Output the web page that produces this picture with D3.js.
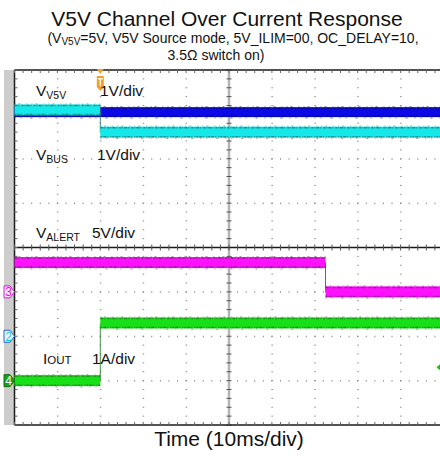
<!DOCTYPE html>
<html>
<head>
<meta charset="utf-8">
<script src="https://cdn.jsdelivr.net/npm/d3@7"></script>
<style>
  body { margin: 0; background: #fff; }
  svg { display: block; font-family: "Liberation Sans", Arial, sans-serif; }
</style>
</head>
<body>
<svg id="chart" width="440" height="460"></svg>
<script>
// Screen: 10 horizontal divisions of 10 ms, 8 vertical divisions
const timeDomainMs = [0, 100];
const divDomain = [-4, 4];

// Channel 1: V5V (1 V/div)
const v5vTimeMs = [0, 100];
const v5vVolts = [5.05, 5.05];
// Channel 2: VBUS (1 V/div)
const vbusTimeMs = [0, 20, 20, 100];
const vbusVolts = [5.1, 5.1, 4.6, 4.6];
// Channel 3: VALERT (5 V/div)
const alertTimeMs = [0, 72.5, 72.5, 100];
const alertVolts = [3.3, 3.3, 0, 0];
// Channel 4: IOUT (1 A/div)
const ioutTimeMs = [0, 20, 20, 100];
const ioutAmps = [0, 0, 1.3, 1.3];

// Units per division and ground position (in divisions from screen centre)
const chScale = { v5v: 1, vbus: 1, alert: 5, iout: 1 };
const chOffset = { v5v: -2, vbus: -2, alert: -1, iout: -3 };
const triggerTimeMs = 20;
const ioutTriggerLevel = 0.3;

const svg = d3.select("#chart");
const x = d3.scaleLinear().domain(timeDomainMs).range([14.5, 443.5]);
const y = d3.scaleLinear().domain(divDomain).range([425, 70]);
const xLeft = x(0), xRight = 440, yTop = y(4), yBottom = y(-4);

// Title
svg.append("text").attr("x", 227).attr("y", 26).attr("text-anchor", "middle")
  .attr("font-size", 21).attr("fill", "#111").text("V5V Channel Over Current Response");
const sub = svg.append("text").attr("x", 233).attr("y", 43).attr("text-anchor", "middle")
  .attr("font-size", 14).attr("fill", "#111");
sub.append("tspan").text("(V");
sub.append("tspan").attr("font-size", 10).attr("dy", 2).text("V5V");
sub.append("tspan").attr("dy", -2).text("=5V, V5V Source mode, 5V_ILIM=00");
sub.append("tspan").attr("fill", "#2030c0").text(",");
sub.append("tspan").text(" OC_DELAY=10,");
svg.append("text").attr("x", 216).attr("y", 60).attr("text-anchor", "middle")
  .attr("font-size", 14).attr("fill", "#111").text("3.5Ω switch on)");

// Left channel strip
svg.append("rect").attr("x", 4).attr("y", yTop).attr("width", xLeft - 4).attr("height", yBottom - yTop)
  .attr("fill", "#cdcdcd");

// Grid dots
const grid = svg.append("g");
const minorT = d3.range(0, 100.01, 2);
const minorD = d3.range(-4, 4.01, 0.2);
[-3, -2, -1, 1, 2, 3].forEach(d => {
  grid.selectAll(null).data(minorT).join("rect")
    .attr("x", t => x(t) - 0.5).attr("y", y(d) - 0.5).attr("width", 1).attr("height", 1.5)
    .attr("fill", "#8a8a8a");
});
[10, 20, 30, 40, 60, 70, 80, 90].forEach(t => {
  grid.selectAll(null).data(minorD).join("rect")
    .attr("x", x(t) - 0.5).attr("y", d => y(d) - 0.5).attr("width", 1.5).attr("height", 1)
    .attr("fill", "#8a8a8a");
});

// Centre vertical axis (gray) with ticks
svg.append("line").attr("x1", x(50)).attr("x2", x(50)).attr("y1", yTop).attr("y2", yBottom)
  .attr("stroke", "#b4b4b4").attr("stroke-width", 2.5);
svg.selectAll(null).data(minorD).join("line")
  .attr("x1", x(50) - 2.5).attr("x2", x(50) + 2.5).attr("y1", d => y(d)).attr("y2", d => y(d))
  .attr("stroke", "#555").attr("stroke-width", 1);

// Borders and centre horizontal line with ticks
const frame = svg.append("g").attr("stroke", "#1a1a1a");
frame.append("line").attr("x1", xLeft).attr("x2", xRight).attr("y1", yTop).attr("y2", yTop).attr("stroke-width", 1.5);
frame.append("line").attr("x1", xLeft).attr("x2", xRight).attr("y1", yBottom).attr("y2", yBottom).attr("stroke-width", 1.5);
frame.append("line").attr("x1", xLeft).attr("x2", xLeft).attr("y1", yTop).attr("y2", yBottom).attr("stroke-width", 1.5);
frame.append("line").attr("x1", xLeft).attr("x2", xRight).attr("y1", y(0)).attr("y2", y(0)).attr("stroke-width", 1.5);
frame.selectAll(null).data(minorT).join("line")
  .attr("x1", t => x(t)).attr("x2", t => x(t)).attr("y1", yTop).attr("y2", yTop + 3).attr("stroke-width", 1).attr("stroke", "#666");
frame.selectAll(null).data(minorT).join("line")
  .attr("x1", t => x(t)).attr("x2", t => x(t)).attr("y1", yBottom).attr("y2", yBottom - 3).attr("stroke-width", 1).attr("stroke", "#666");
frame.selectAll(null).data(minorT).join("line")
  .attr("x1", t => x(t)).attr("x2", t => x(t)).attr("y1", y(0) - 3).attr("y2", y(0) + 3).attr("stroke-width", 1).attr("stroke", "#555");
frame.selectAll(null).data(minorD).join("line")
  .attr("x1", xLeft).attr("x2", xLeft + 3).attr("y1", d => y(d)).attr("y2", d => y(d)).attr("stroke-width", 1).attr("stroke", "#666");

// Traces: flat segments drawn as noisy bands, transitions as thin edges
function drawTrace(times, values, key, color, edge, band) {
  const g = svg.append("g");
  const yv = v => y(chOffset[key] + v / chScale[key]);
  for (let i = 0; i < times.length - 1; i++) {
    const t0 = times[i], t1 = times[i + 1];
    if (t0 === t1) {
      g.append("line").attr("x1", x(t0)).attr("x2", x(t0))
        .attr("y1", yv(values[i])).attr("y2", yv(values[i + 1]))
        .attr("stroke", edge).attr("stroke-width", 1).attr("opacity", 0.8);
    } else {
      const yc = yv(values[i]);
      const x0 = x(t0), x1 = Math.min(x(t1), xRight);
      g.append("rect").attr("x", x0).attr("y", yc - band / 2).attr("width", x1 - x0).attr("height", band)
        .attr("fill", color);
      g.append("line").attr("x1", x0).attr("x2", x1).attr("y1", yc - band / 2 + 1).attr("y2", yc - band / 2 + 1)
        .attr("stroke", edge).attr("stroke-width", 1.5).attr("stroke-dasharray", "3 1 1 2 2 1 1 1")
        .attr("opacity", 0.75);
      g.append("line").attr("x1", x0).attr("x2", x1).attr("y1", yc - band / 2 - 0.6).attr("y2", yc - band / 2 - 0.6)
        .attr("stroke", edge).attr("stroke-width", 1).attr("stroke-dasharray", "1 3 2 6 1 4")
        .attr("opacity", 0.5);
      g.append("line").attr("x1", x0).attr("x2", x1).attr("y1", yc + band / 2 - 1).attr("y2", yc + band / 2 - 1)
        .attr("stroke", edge).attr("stroke-width", 1.5).attr("stroke-dasharray", "2 1 3 1 1 2 1 1")
        .attr("opacity", 0.75);
      g.append("line").attr("x1", x0).attr("x2", x1).attr("y1", yc + band / 2 + 0.8).attr("y2", yc + band / 2 + 0.8)
        .attr("stroke", edge).attr("stroke-width", 1).attr("stroke-dasharray", "1 5 1 9 2 7")
        .attr("opacity", 0.6);
    }
  }
}
drawTrace(v5vTimeMs, v5vVolts, "v5v", "#0a0ae6", "#0a0a70", 10);
drawTrace(vbusTimeMs, vbusVolts, "vbus", "#14e8e8", "#1d6f6f", 11);
drawTrace(alertTimeMs, alertVolts, "alert", "#ff10ff", "#7a1a7a", 11);
drawTrace(ioutTimeMs, ioutAmps, "iout", "#18e018", "#1a7a1a", 11);

// Channel ground markers
function chanMarker(key, label, fill, stroke, textColor) {
  const yc = y(chOffset[key]);
  svg.append("path")
    .attr("d", `M4,${yc - 6}H10L14.5,${yc}L10,${yc + 6}H4Z`)
    .attr("fill", fill).attr("stroke", stroke).attr("stroke-width", 1);
  svg.append("text").attr("x", 8.5).attr("y", yc + 4.5).attr("text-anchor", "middle")
    .attr("font-size", 12).attr("fill", textColor).text(label);
}
chanMarker("alert", "3", "#f4e4f4", "#d020d0", "#d020d0");
chanMarker("vbus", "2", "#eaf8fc", "#2060e0", "#10c8d8");
chanMarker("iout", "4", "#18a018", "#0e700e", "#ffffff");

// Trigger position marker (orange tag with a "T" glyph)
const tx = x(triggerTimeMs);
const trig = svg.append("g").attr("fill", "#f0a030");
trig.append("path").attr("d", `M${tx - 3.5},${yTop - 1}H${tx + 3.5}L${tx},${yTop + 4}Z`);
trig.append("path").attr("d", `M${tx - 3.5},${yTop + 6}H${tx + 3.5}V${yTop + 17}L${tx},${yTop + 21}L${tx - 3.5},${yTop + 17}Z`);
svg.append("path")
  .attr("d", `M${tx - 2.5},${yTop + 8}H${tx + 2.5}V${yTop + 9.5}H${tx + 0.7}V${yTop + 16}H${tx - 0.7}V${yTop + 9.5}H${tx - 2.5}Z`)
  .attr("fill", "#fff2c8");

// Trigger level marker for channel 4 at right edge
const ty = y(chOffset.iout + ioutTriggerLevel / chScale.iout);
svg.append("path").attr("d", `M436.5,${ty}L440,${ty - 3}V${ty + 3}Z`).attr("fill", "#18c018");

// Channel labels
function chanLabel(xp, yp, main, subText, scaleText, sx, smallCaps) {
  const t = svg.append("text").attr("x", xp).attr("y", yp).attr("font-size", 15.5).attr("fill", "#111");
  t.append("tspan").text(main);
  if (smallCaps) t.append("tspan").attr("font-size", 11.5).text(subText);
  else {
    t.append("tspan").attr("font-size", 10.5).attr("dy", 3).text(subText);
  }
  svg.append("text").attr("x", sx).attr("y", yp).attr("font-size", 15.5).attr("fill", "#111").text(scaleText);
}
chanLabel(36, 96, "V", "V5V", "1V/div", 100, false);
chanLabel(36, 160, "V", "BUS", "1V/div", 97, false);
chanLabel(36, 238, "V", "ALERT", "5V/div", 92, false);
chanLabel(43, 364, "I", "OUT", "1A/div", 92, true);

// Axis title
svg.append("text").attr("x", 229).attr("y", 446).attr("text-anchor", "middle")
  .attr("font-size", 21).attr("fill", "#111").text("Time (10ms/div)");
</script>
</body>
</html>
